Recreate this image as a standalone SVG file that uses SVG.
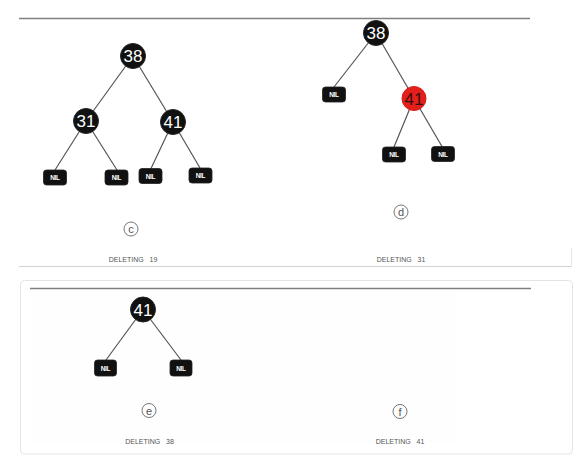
<svg xmlns="http://www.w3.org/2000/svg" width="578" height="459" viewBox="0 0 578 459">
<style>
.bk{fill:#111;stroke:#222;stroke-width:1}
.rd{fill:#e3201c;stroke:#d41a17;stroke-width:1}
.num{font-family:"Liberation Sans",Arial,sans-serif;font-size:17px;fill:#fff;text-anchor:middle}
.numr{font-family:"Liberation Sans",Arial,sans-serif;font-size:17px;fill:#3a0d0d;text-anchor:middle}
.nil{fill:#111;stroke:#222;stroke-width:0.8}
.nilt{font-family:"Liberation Sans",Arial,sans-serif;font-size:6.5px;fill:#fff;text-anchor:middle;letter-spacing:-0.3px;font-weight:bold}
.edge{stroke:#555;stroke-width:1.2;fill:none}
.cap{font-family:"Liberation Sans",Arial,sans-serif;font-size:7px;fill:#555;text-anchor:middle}
.circ{fill:none;stroke:#666;stroke-width:0.9}
.lt{font-family:"Liberation Sans",Arial,sans-serif;font-size:11px;fill:#555;text-anchor:middle}
</style>
<rect width="578" height="459" fill="#fff"/>
<!-- frames -->
<line x1="19" y1="18.5" x2="530" y2="18.5" stroke="#808080" stroke-width="1.5"/>
<line x1="19" y1="266.5" x2="572" y2="266.5" stroke="#d2d2d2" stroke-width="1"/>
<line x1="571.5" y1="248" x2="571.5" y2="266.5" stroke="#e6e6e6" stroke-width="1"/>
<rect x="20.5" y="280.5" width="552" height="173.5" rx="4" fill="#fff" stroke="#e4e4e4" stroke-width="1"/>
<rect x="31" y="290" width="427" height="153" fill="#fefefe"/>
<line x1="30" y1="288.5" x2="531" y2="288.5" stroke="#808080" stroke-width="1.5"/>

<g id="connectors">
  <line class="edge" x1="133" y1="56" x2="86" y2="121"/>
  <line class="edge" x1="133" y1="56" x2="173" y2="122"/>
  <line class="edge" x1="86" y1="121" x2="55" y2="170"/>
  <line class="edge" x1="86" y1="121" x2="117" y2="170"/>
  <line class="edge" x1="173" y1="122" x2="151" y2="168.5"/>
  <line class="edge" x1="173" y1="122" x2="200" y2="168"/>

  <line class="edge" x1="376" y1="33" x2="334" y2="87"/>
  <line class="edge" x1="376" y1="33" x2="414" y2="98.5"/>
  <line class="edge" x1="414" y1="98.5" x2="394" y2="147"/>
  <line class="edge" x1="414" y1="98.5" x2="442" y2="146.5"/>

  <line class="edge" x1="143" y1="309.5" x2="106" y2="360"/>
  <line class="edge" x1="143" y1="309.5" x2="181" y2="360"/>
</g>

<!-- panel c -->
<g id="c-38"><circle class="bk" cx="133" cy="56" r="12.5"/><text class="num" x="133" y="62">38</text></g>
<g id="c-31"><circle class="bk" cx="86" cy="121" r="12.5"/><text class="num" x="86" y="127">31</text></g>
<g id="c-41"><circle class="bk" cx="173" cy="122" r="12.5"/><text class="num" x="173" y="128">41</text></g>
<g id="c-nil1"><rect class="nil" x="43.5" y="170" width="23" height="15" rx="3"/><text class="nilt" x="55" y="180">NIL</text></g>
<g id="c-nil2"><rect class="nil" x="105" y="170" width="23" height="15" rx="3"/><text class="nilt" x="116.5" y="180">NIL</text></g>
<g id="c-nil3"><rect class="nil" x="139" y="168.5" width="23" height="15" rx="3"/><text class="nilt" x="150.5" y="178.5">NIL</text></g>
<g id="c-nil4"><rect class="nil" x="189" y="168" width="23" height="15" rx="3"/><text class="nilt" x="200.5" y="178">NIL</text></g>
<g id="c-label"><circle class="circ" cx="131" cy="229" r="7"/><text class="lt" x="131" y="233">c</text></g>
<text class="cap" x="133" y="262" xml:space="preserve">DELETING   19</text>

<!-- panel d -->
<g id="d-38"><circle class="bk" cx="376" cy="33" r="12.5"/><text class="num" x="376" y="39">38</text></g>
<g id="d-nil1"><rect class="nil" x="322.5" y="87" width="23" height="15" rx="3"/><text class="nilt" x="334" y="97">NIL</text></g>
<g id="d-41"><circle class="rd" cx="414" cy="98.5" r="12"/><text class="numr" x="414" y="104.5">41</text></g>
<g id="d-nil2"><rect class="nil" x="382.5" y="147" width="23" height="15" rx="3"/><text class="nilt" x="394" y="157">NIL</text></g>
<g id="d-nil3"><rect class="nil" x="431.5" y="146.5" width="23" height="15" rx="3"/><text class="nilt" x="443" y="156.5">NIL</text></g>
<g id="d-label"><circle class="circ" cx="401" cy="212" r="7"/><text class="lt" x="401" y="216">d</text></g>
<text class="cap" x="401" y="262" xml:space="preserve">DELETING   31</text>

<!-- panel e -->
<g id="e-41"><circle class="bk" cx="143" cy="309.5" r="12.5"/><text class="num" x="143" y="315.5">41</text></g>
<g id="e-nil1"><rect class="nil" x="94.5" y="360" width="22" height="16" rx="3"/><text class="nilt" x="105.5" y="370.5">NIL</text></g>
<g id="e-nil2"><rect class="nil" x="170" y="360" width="22" height="16" rx="3"/><text class="nilt" x="181" y="370.5">NIL</text></g>
<g id="e-label"><circle class="circ" cx="149" cy="410.5" r="7"/><text class="lt" x="149" y="414.5">e</text></g>
<text class="cap" x="149.5" y="444" xml:space="preserve">DELETING   38</text>

<!-- panel f -->
<g id="f-label"><circle class="circ" cx="400" cy="411.5" r="7"/><text class="lt" x="400" y="415.5">f</text></g>
<text class="cap" x="400" y="444" xml:space="preserve">DELETING   41</text>
</svg>
